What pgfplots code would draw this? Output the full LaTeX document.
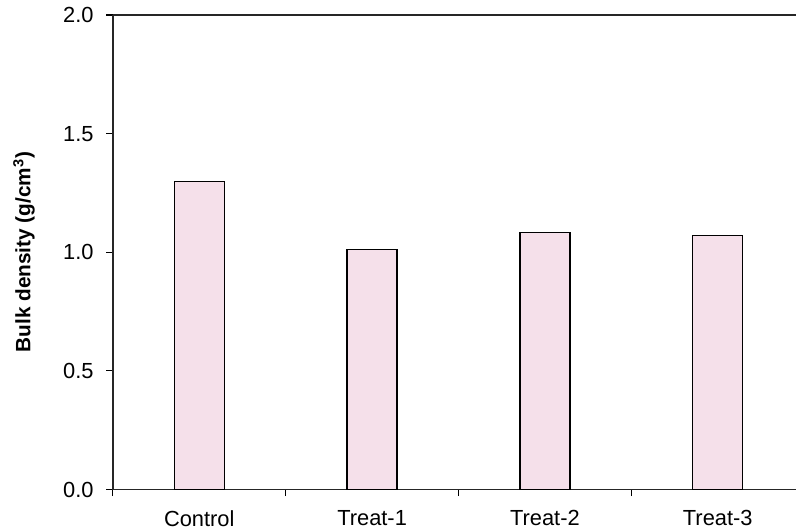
\documentclass[border=0pt]{standalone}
\usepackage{pgfplots}
\pgfplotsset{compat=1.18}
\usepackage{fontspec}
\setmainfont{Liberation Sans}
\definecolor{barpink}{RGB}{245,224,234}
\begin{document}
\begin{tikzpicture}
\begin{axis}[
  scale only axis,
  width=513pt, height=356.25pt,
  xmin=-0.5, xmax=3.454,
  ymin=0, ymax=2,
  axis x line*=box,
  axis y line*=left,
  axis line style={line width=1.2pt, black!85},
  xtick={0,1,2,3},
  xticklabels={Control,Treat-1,Treat-2,Treat-3},
  major x tick style={draw=none},
  minor xtick={-0.5,0.5,1.5,2.5},
  xtick pos=bottom,
  ytick pos=left,
  tick align=outside,
  major tick length=5pt,
  minor tick length=5pt,
  tick style={line width=0.9pt, black},
  ytick={0,0.5,1,1.5,2},
  /pgf/number format/fixed,
  /pgf/number format/fixed zerofill,
  /pgf/number format/precision=1,
  /pgf/number format/assume math mode=true,
  ticklabel style={font=\fontsize{16.4}{19}\selectfont},
  xticklabel style={yshift=-7pt},
  yticklabel style={xshift=-6pt},
  ylabel={Bulk density (g/cm\textsuperscript{3})},
  every axis y label/.style={at={(rel axis cs:0,0.5)}, rotate=90, anchor=center, yshift=66.75pt, font=\fontsize{15.6}{18}\selectfont\bfseries},
  clip=false,
]
\addplot[ybar, bar width=37.5pt, fill=barpink, draw=black, line width=1pt]
  coordinates {(0,1.297) (1,1.011) (2,1.083) (3,1.070)};
\coordinate (ll) at (rel axis cs:0,0);
\coordinate (ur) at (rel axis cs:1,1);
\end{axis}
\path ([xshift=-84.75pt,yshift=-30pt]ll) rectangle ([yshift=11.25pt]ur);
\end{tikzpicture}
\end{document}
